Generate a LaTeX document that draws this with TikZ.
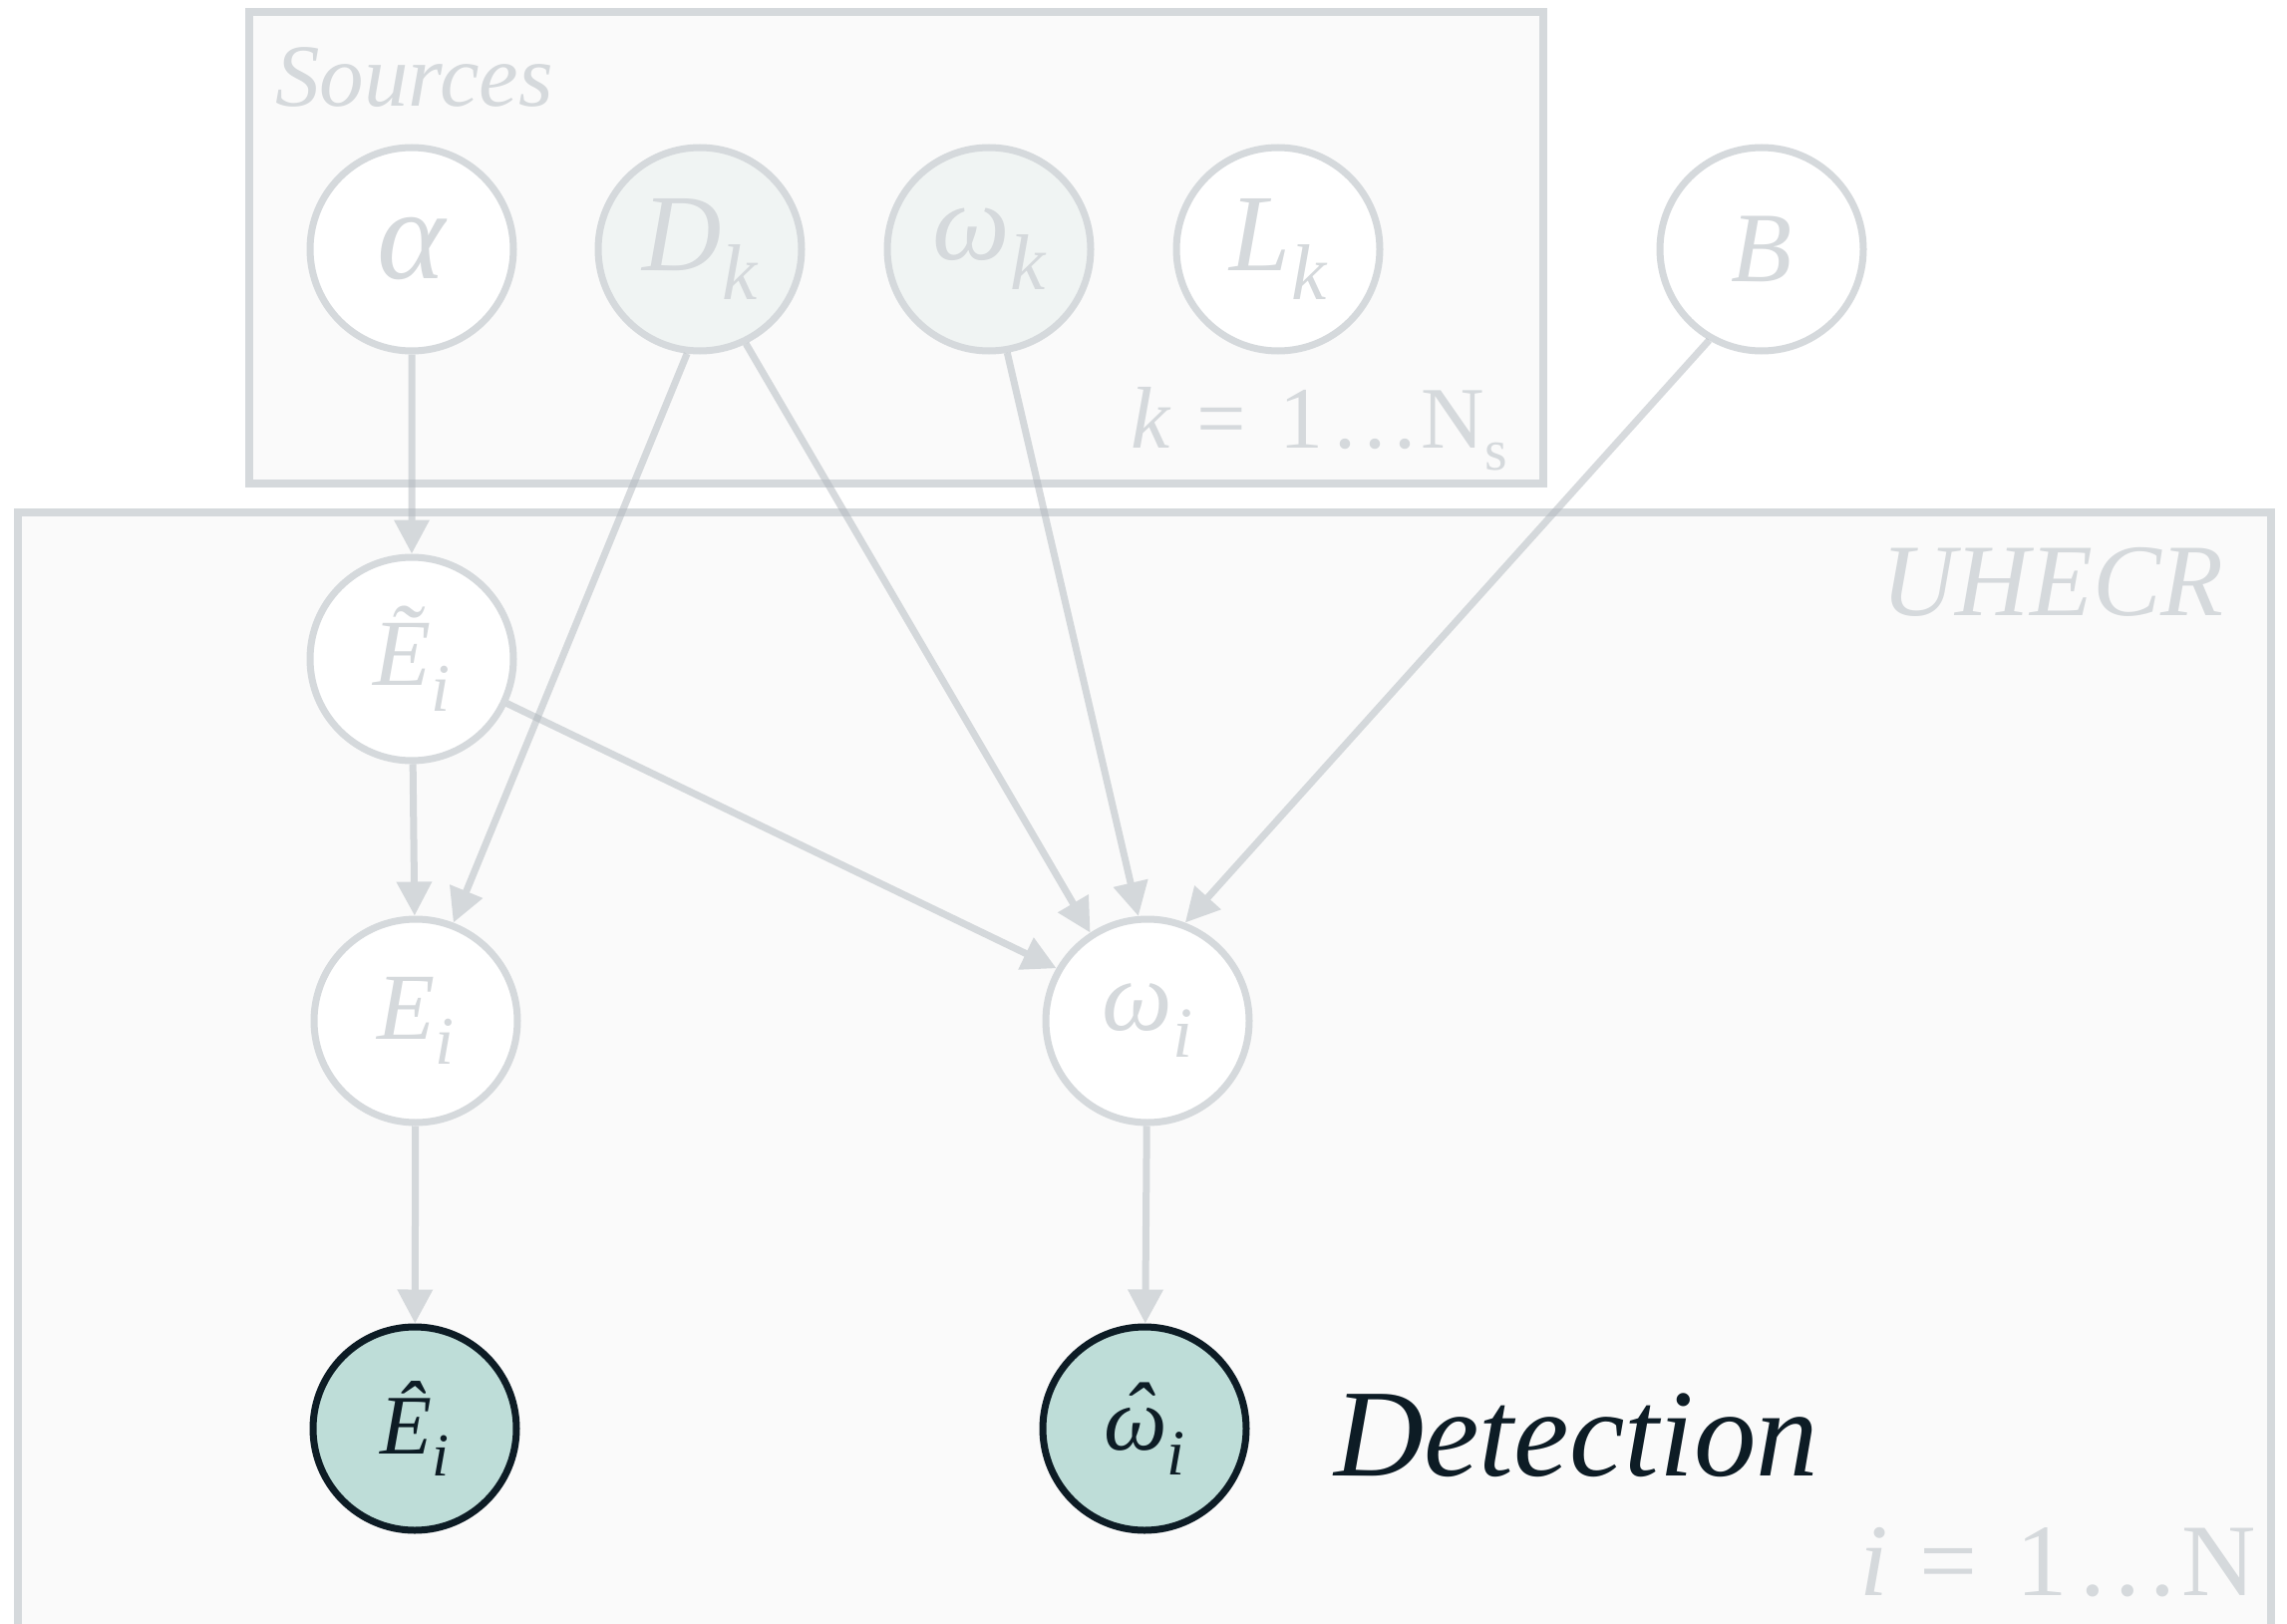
\documentclass[tikz,border=0pt]{standalone}
\usepackage{fontspec}
\setmainfont{Liberation Serif}
\usetikzlibrary{arrows.meta}

\definecolor{plategray}{HTML}{D5D9DC}
\definecolor{platebg}{HTML}{FAFAFA}
\definecolor{latentfill}{HTML}{F0F4F3}
\definecolor{obsfill}{HTML}{BEDDD8}
\definecolor{obsline}{HTML}{0D1C25}
\definecolor{edgegray}{RGB}{176,183,189}

% lowered, reduced index
\newcommand\vsub[1]{\raisebox{-0.27em}{\scalebox{0.72}{#1}}}
\newcommand\fsz[1]{\fontsize{#1}{#1}\selectfont}
% "1...N" with the spacing of a displayed range
\newcommand\range[1]{\textit{#1}\kern0.3em=\kern0.38em 1\kern0.12em.\kern0.09em.\kern0.09em.\kern0.06em N}

\tikzset{
  plate/.style={draw=plategray, line width=8pt, fill=platebg},
  var/.style={circle, draw=plategray, line width=7pt, fill=white,
    minimum size=204pt, inner sep=0pt, text=plategray, font=\itshape},
  latent/.style={var, fill=latentfill},
  observed/.style={var, draw=obsline, fill=obsfill, text=obsline},
  edgeline/.style={draw=edgegray, line width=7pt,
    -{Triangle[length=34pt,width=34pt]}},
  platelabel/.style={text=plategray, inner sep=0pt}
}
% every connector is its own half-transparent group, so crossings darken
\newcommand\link[2]{%
  \begin{scope}[transparency group, opacity=0.5]
    \draw[edgeline] (#1) -- (#2);
  \end{scope}}

\begin{document}
\begin{tikzpicture}[x=1pt, y=-1pt]
  \useasboundingbox (0,0) rectangle (2294,1629);
  \fill[white] (0,0) rectangle (2294,1629);

  % plates
  \draw[plate] (250,12) rectangle (1548,485);
  \draw[plate] (17.5,514) rectangle (2278,1660);

  \node[platelabel, anchor=base west, font=\fsz{89}\itshape] (srclbl) at (276,107) {Sources};
  \node[platelabel, anchor=base east, font=\fsz{88}] (krange) at (1512,449)
    {\range{k}\raisebox{-0.25em}{\scalebox{0.66}{s}}};
  \node[platelabel, anchor=base east, font=\fsz{103}\itshape] (uhecrlbl) at (2231,617) {UHECR};
  \node[platelabel, anchor=base east, font=\fsz{103}] (irange) at (2263,1600) {\range{i}};

  % source level
  \node[var]    (alpha) at (413,250)  {\fsz{130}α};
  \node[latent] (dk)    at (702,250)  {\fsz{110}D\vsub{k}};
  \node[latent] (wk)    at (992,250)  {\fsz{110}ω\vsub{k}};
  \node[var]    (lk)    at (1282,250) {\fsz{110}L\vsub{k}};
  \node[var]    (bf)    at (1767,250) {\fsz{100}B};

  % cosmic-ray level
  \node[var] (et) at (413,661)  {\fsz{95}Ẽ\vsub{i}};
  \node[var] (ei) at (417,1024) {\fsz{95}E\vsub{i}};
  \node[var] (wi) at (1151,1024) {\fsz{100}ω\vsub{i}};

  % detected quantities
  \node[observed] (eh) at (416,1433)  {\fsz{85}Ê\vsub{i}};
  \node[observed] (wh) at (1148,1433) {\fsz{90}\rlap{\kern0.2em\raisebox{0.06em}{ˆ}}ω\vsub{i}};
  \node[anchor=base west, inner sep=0pt, text=obsline, font=\fsz{125}\itshape] (det) at (1338,1480) {Detection};

  % dependencies
  \link{alpha.south}{et.north}
  \link{dk.263}{ei.69}
  \link{dk.296}{wi.123}
  \link{wk.280}{wi.95}
  \link{bf.240}{wi.69}
  \link{et}{ei}
  \link{et.335}{wi.150}
  \link{ei}{eh}
  \link{wi}{wh}
\end{tikzpicture}
\end{document}
